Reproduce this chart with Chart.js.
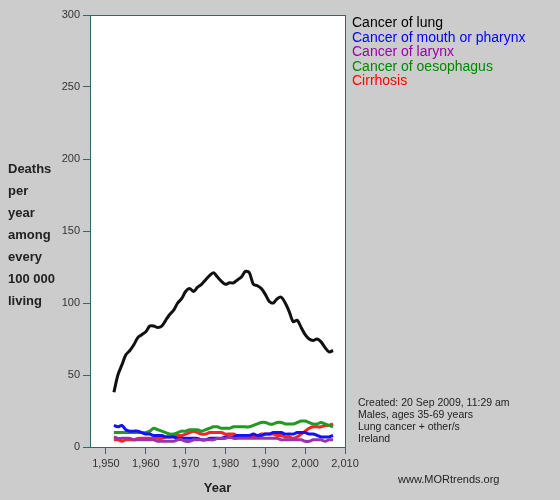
<!DOCTYPE html><html><head><script src="https://cdn.jsdelivr.net/npm/chart.js@4"></script>
<style>body{margin:0;background:#cccccc;font-family:Arial,"Liberation Sans",sans-serif}#w{position:relative;width:560px;height:500px}
canvas{position:absolute;left:0;top:0}.t{position:absolute;font-size:12px;color:#222}</style></head><body><div id="w"><canvas id="c" width="560" height="500"></canvas>
<div class="t" style="left:8px;top:158px;font-weight:bold;font-size:13px;line-height:22px">Deaths<br>per<br>year<br>among<br>every<br>100 000<br>living</div>
<div class="t" style="left:352px;top:15px;font-size:14px;line-height:14.5px"><span style="color:#000">Cancer of lung</span><br><span style="color:#0000ff">Cancer of mouth or pharynx</span><br><span style="color:#9900aa">Cancer of larynx</span><br><span style="color:#008800">Cancer of oesophagus</span><br><span style="color:#ff0000">Cirrhosis</span></div>
<div class="t" style="left:358px;top:396px;font-size:10.5px;line-height:12px">Created: 20 Sep 2009, 11:29 am<br>Males, ages 35-69 years<br>Lung cancer + other/s<br>Ireland</div>
<div class="t" style="left:398px;top:473px;font-size:11px">www.MORtrends.org</div>
</div>
<script>
const years=[];for(let y=1952;y<=2007;y++)years.push(y);
const xTicks=[1950,1960,1970,1980,1990,2000,2010];
const lung=[38,50,57,64,67,71,76,78,80,84,84,83,84,88,92,95,100,103,108,110,108,111,113,116,119,121,118,115,113,114,114,116,118,122,121,113,112,110,106,101,100,103,104,100,94,87,88,83,78,75,74,75,73,69,66,67];
const mouth=[15,14,15,12,11,11,11,10,9,9,8,8,8,7,7,7,6,6,6,6,6,6,5,5,6,6,6,6,7,7,7,8,8,8,8,9,8,8,9,9,10,10,10,9,9,9,10,10,10,9,9,8,7,7,7,8];
const larynx=[7,6,6,6,6,5,5,5,5,5,5,4,4,4,4,4,5,5,4,4,5,5,5,5,5,5,6,6,6,7,6,6,6,6,6,6,6,6,6,6,6,6,5,5,5,5,5,5,4,4,5,5,5,4,5,5];
const oeso=[10,10,10,10,10,10,10,10,10,11,13,12,11,10,9,9,10,11,11,12,12,12,11,12,13,14,14,13,13,13,14,14,14,14,14,15,16,17,17,16,16,17,17,16,16,16,17,18,18,17,16,16,17,16,15,14];
const cirr=[5,5,4,5,5,5,6,6,6,6,6,6,6,7,7,7,8,8,9,10,11,10,9,9,10,10,10,10,9,9,9,8,8,8,8,8,8,9,9,9,9,8,8,7,7,6,7,9,11,13,14,14,14,15,15,16];
const ds=(d,c)=>({data:d.map((v,i)=>({x:years[i],y:v})),borderColor:c,borderWidth:3,pointRadius:0,tension:0.3});
new Chart(document.getElementById('c'),{type:'line',data:{datasets:[ds(larynx,'#9933aa'),ds(mouth,'#1111ff'),ds(oeso,'#229922'),ds(cirr,'#ff2222'),ds(lung,'#111111')]},
options:{responsive:false,animation:false,layout:{padding:{left:0,right:215,top:15,bottom:0}},plugins:{legend:{display:false},tooltip:{enabled:false}},
scales:{x:{type:'linear',min:1946,max:2010,afterBuildTicks:a=>{a.ticks=xTicks.map(v=>({value:v}));},afterFit:a=>{a.height=53;},ticks:{color:'#333',font:{size:11},maxRotation:0},grid:{drawOnChartArea:false,drawTicks:true,tickLength:7,color:'#336666'},border:{color:'#336666'},title:{display:true,text:'Year',font:{size:13,weight:'bold'},color:'#222'}},
y:{min:0,max:300,afterFit:a=>{a.width=90;},ticks:{stepSize:50,color:'#333',font:{size:11}},grid:{drawOnChartArea:false,tickLength:7,color:'#336666'},border:{color:'#336666'}}}},
plugins:[{id:'bg',beforeDraw(c){const a=c.chartArea,x=c.ctx;x.save();x.fillStyle='#fff';x.fillRect(a.left,a.top,a.right-a.left,a.bottom-a.top);x.restore();},
afterDraw(c){const a=c.chartArea,x=c.ctx;x.save();x.strokeStyle='#336666';x.beginPath();x.moveTo(a.right+0.5,a.top);x.lineTo(a.right+0.5,a.bottom);x.moveTo(a.left,a.top+0.5);x.lineTo(a.right,a.top+0.5);x.stroke();x.restore();}}]});
</script></body></html>
